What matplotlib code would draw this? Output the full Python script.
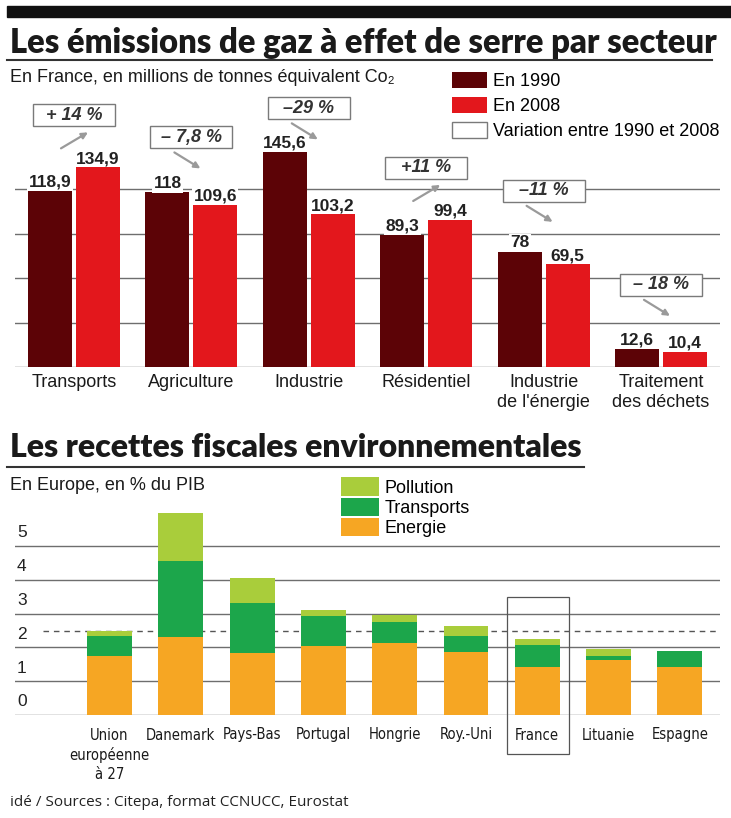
import matplotlib
matplotlib.use("Agg")
import matplotlib.pyplot as plt
import matplotlib.transforms as mtransforms
from matplotlib import font_manager
from matplotlib.patches import Patch, Rectangle
from matplotlib.lines import Line2D

# --- data: greenhouse gas emissions (Mt CO2 eq.) ---
sectors = ["Transports", "Agriculture", "Industrie", "Résidentiel",
           "Industrie\nde l'énergie", "Traitement\ndes déchets"]
emissions_1990 = [118.9, 118, 145.6, 89.3, 78, 12.6]
emissions_2008 = [134.9, 109.6, 103.2, 99.4, 69.5, 10.4]
variation_labels = ["+ 14 %", "– 7,8 %", "–29 %", "+11 %", "–11 %", "– 18 %"]

# --- data: environmental tax revenue (% of GDP) ---
countries = ["Union\neuropéenne\nà 27", "Danemark", "Pays-Bas", "Portugal",
             "Hongrie", "Roy.-Uni", "France", "Lituanie", "Espagne"]
energie = [1.75, 2.3, 1.83, 2.04, 2.12, 1.87, 1.42, 1.62, 1.42]
transports = [0.59, 2.26, 1.48, 0.9, 0.64, 0.47, 0.65, 0.14, 0.47]
pollution = [0.16, 1.42, 0.74, 0.16, 0.2, 0.29, 0.17, 0.19, 0.0]
highlight = "France"

# colours
C1990 = "#5c0306"
C2008 = "#e3171c"
C_ENERGIE = "#f6a623"
C_TRANSP = "#1ca64b"
C_POLL = "#a9cd3b"
GRID = "#6e6e6e"

# look for a condensed face for the narrow labels
cond = [f for f in font_manager.fontManager.ttflist
        if f.stretch in ("condensed", "semi-condensed", "semi-expanded") or "Narrow" in f.name
        or "Condensed" in f.name]
if cond:
    COND_FAMILY, COND_STRETCH = cond[0].name, cond[0].stretch
else:
    COND_FAMILY, COND_STRETCH = "Liberation Sans", "normal"

plt.rcParams["font.family"] = ["Liberation Sans", "DejaVu Sans"]

W, H = 731, 818
fig = plt.figure(figsize=(W / 100, H / 100), dpi=100)


def fx(px):
    return px / W


def fy(py):
    return 1 - py / H


# top decoration
fig.patches.append(Rectangle((fx(7), fy(17)), 1, 11 / H, transform=fig.transFigure,
                             color="#111111", zorder=0))
fig.lines.append(Line2D([fx(7), fx(712)], [fy(60), fy(60)], transform=fig.transFigure,
                        color="#333333", lw=1.5))
fig.lines.append(Line2D([fx(7), fx(584)], [fy(467), fy(467)], transform=fig.transFigure,
                        color="#333333", lw=1.5))

renderer = fig.canvas.get_renderer()


def title(py, text, width_px):
    t = fig.text(fx(10), fy(py), text, family="Lato", weight="heavy", fontsize=20,
                 va="center", color="#1a1a1a")
    w = t.get_window_extent(renderer=renderer).width
    t.set_fontsize(20 * width_px / w)
    return t


title(43, "Les émissions de gaz à effet de serre par secteur", 708)
title(447, "Les recettes fiscales environnementales", 573)

fig.text(fx(10), fy(78), "En France, en millions de tonnes équivalent Co₂",
         fontsize=13, va="center", color="#1a1a1a")
fig.text(fx(10), fy(486), "En Europe, en % du PIB", fontsize=13, va="center", color="#1a1a1a")
fig.text(fx(10), fy(802), "idé / Sources : Citepa, format CCNUCC, Eurostat",
         family="Open Sans", fontsize=11, va="center", color="#222222")

# ---------------- top chart ----------------
ax = fig.add_axes([fx(15), fy(367.3), (720 - 15) / W, 296.6 / H])
x = range(len(sectors))
bw = 0.375
off = 0.204
b1 = ax.bar([i - off for i in x], emissions_1990, bw, color=C1990, zorder=2)
b2 = ax.bar([i + off for i in x], emissions_2008, bw, color=C2008, zorder=2)
ax.set_xlim(-0.5026, 5.5026)
ax.set_ylim(0, 200)
ax.set_yticks([0, 30, 60, 90, 120])
ax.grid(axis="y", color=GRID, lw=1.0)
ax.set_axisbelow(True)
for s in ax.spines.values():
    s.set_visible(False)
ax.tick_params(axis="y", length=0, labelleft=False)
ax.set_xticks(list(x), sectors)
ax.tick_params(axis="x", length=0, pad=4.5, labelsize=13, labelcolor="#1a1a1a")
for lab in ax.get_xticklabels():
    lab.set_linespacing(1.25)


def fmt(v):
    return f"{v:g}".replace(".", ",")


for bars, vals in ((b1, emissions_1990), (b2, emissions_2008)):
    for bar, v in zip(bars, vals):
        ax.annotate(fmt(v), (bar.get_x() + bar.get_width() / 2, v), xytext=(0, 3),
                    textcoords="offset points", ha="center", va="baseline",
                    fontsize=12.5, fontweight="bold", color="#222222", zorder=3,
                    bbox=dict(facecolor="white", edgecolor="none", pad=1))

# variation boxes with arrows
box_lift = [35, 37, 29, 35, 41, 43]
p0 = ax.transData.transform((0, 0))
p1 = ax.transData.transform((1, 1))
sx, sy = p1[0] - p0[0], p1[1] - p0[1]
for i, lab in enumerate(variation_labels):
    cx = i
    cy = max(emissions_1990[i], emissions_2008[i]) + box_lift[i]
    bwid, bhei = 82 / sx, 22 / sy
    ax.add_patch(Rectangle((cx - bwid / 2, cy - bhei / 2), bwid, bhei, facecolor="white",
                           edgecolor="#7a7a7a", lw=1, zorder=4, clip_on=False))
    ax.text(cx, cy, lab, ha="center", va="center", fontsize=13, fontweight="bold",
            fontstyle="italic", color="#333333", zorder=5)
    if emissions_2008[i] > emissions_1990[i]:
        tail, head = (-13, -33), (14, -17)
    else:
        tail, head = (-17, -15), (9, -31)
    ax.annotate("", xy=(cx + head[0] / sx, cy + head[1] / sy),
                xytext=(cx + tail[0] / sx, cy + tail[1] / sy),
                arrowprops=dict(arrowstyle="-|>", color="#9a9a9a", lw=1.6,
                                mutation_scale=9, shrinkA=0, shrinkB=0),
                zorder=4, annotation_clip=False)

ax.legend(handles=[Patch(facecolor=C1990, label="En 1990"),
                   Patch(facecolor=C2008, label="En 2008"),
                   Patch(facecolor="white", edgecolor="#7a7a7a", lw=1,
                         label="Variation entre 1990 et 2008")],
          loc="upper left", bbox_to_anchor=(fx(452), fy(71.5)),
          bbox_transform=fig.transFigure, frameon=False, fontsize=13,
          borderpad=0, borderaxespad=0, handlelength=1.95, handleheight=1.02,
          handletextpad=0.33, labelspacing=0.37)

# ---------------- bottom chart ----------------
ax2 = fig.add_axes([fx(15), fy(715), (720 - 15) / W, 6.5 * 33.8 / H])
xc = range(len(countries))
cw = 0.63
bot2 = [e + t for e, t in zip(energie, transports)]
ax2.bar(xc, energie, cw, color=C_ENERGIE, zorder=2)
ax2.bar(xc, transports, cw, bottom=energie, color=C_TRANSP, zorder=2)
ax2.bar(xc, pollution, cw, bottom=bot2, color=C_POLL, zorder=2)
ax2.set_xlim(-1.325, 8.563)
ax2.set_ylim(0, 6.5)
ax2.set_yticks(range(6))
ax2.grid(axis="y", color=GRID, lw=1.0)
ax2.set_axisbelow(True)
for s in ax2.spines.values():
    s.set_visible(False)
ax2.tick_params(axis="y", length=0, labelleft=False)
ax2.set_xticks(list(xc), countries)
ax2.tick_params(axis="x", length=0, pad=9, labelcolor="#1a1a1a")
for lab in ax2.get_xticklabels():
    lab.set_family([COND_FAMILY, "DejaVu Sans"])
    lab.set_stretch(COND_STRETCH)
    lab.set_fontsize(10.6 if COND_STRETCH != "normal" else 10.3)
    lab.set_linespacing(1.33)

ytr = mtransforms.blended_transform_factory(ax2.transAxes, ax2.transData)
for k in ax2.get_yticks():
    ax2.annotate(f"{k:g}", (0, k), xycoords=ytr, xytext=(1.5, 4), textcoords="offset points",
                 ha="left", va="bottom", fontsize=12.5, color="#222222")

# EU-27 average line
eu_total = energie[0] + transports[0] + pollution[0]
ax2.axhline(eu_total, xmin=0.04, xmax=0.995, color="#555555", lw=1.0,
            linestyle=(0, (4, 3.5)), zorder=1)

# France highlight frame
hi = countries.index(highlight)
ax2.add_patch(Rectangle((hi - 0.42, -1.15), 0.86, 4.64, fill=False, edgecolor="#555555",
                        lw=0.9, zorder=3, clip_on=False))

ax2.legend(handles=[Patch(facecolor=C_POLL, label="Pollution"),
                    Patch(facecolor=C_TRANSP, label="Transports"),
                    Patch(facecolor=C_ENERGIE, label="Energie")],
           loc="upper left", bbox_to_anchor=(fx(341), fy(477.5)),
           bbox_transform=fig.transFigure, frameon=False, fontsize=13,
           borderpad=0, borderaxespad=0, handlelength=2.1, handleheight=1.17,
           handletextpad=0.33, labelspacing=0.05)

fig.savefig("out.png", dpi=100)
